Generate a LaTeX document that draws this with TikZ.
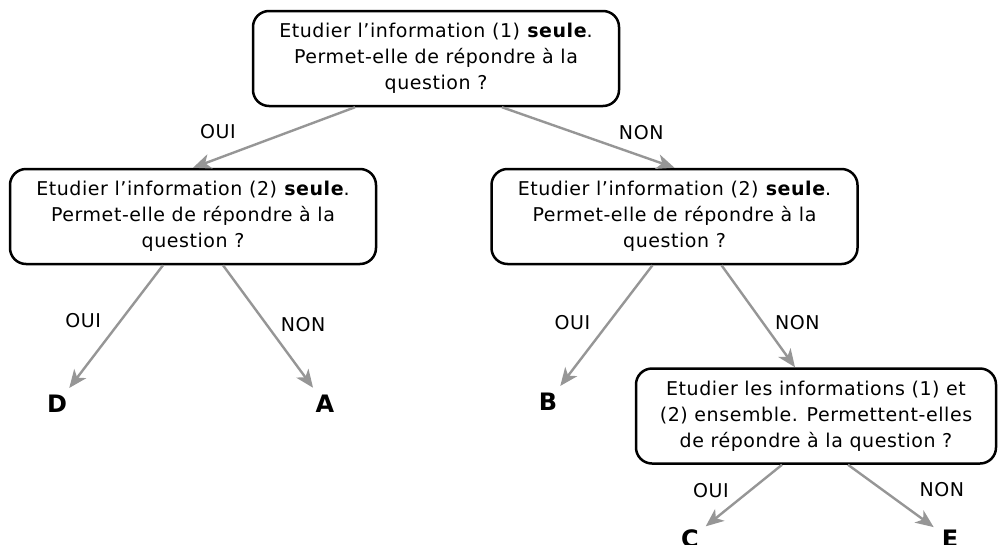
\documentclass[tikz,border=0pt]{standalone}
\usepackage{fontspec}
\setmainfont[LetterSpace=3]{DejaVu Sans}
\usetikzlibrary{calc, arrows.meta}
\definecolor{arrowgray}{RGB}{150,150,150}

\begin{document}
\begin{tikzpicture}[
    x=1pt, y=-1pt,
    question/.style={rectangle, rounded corners=16pt, draw, line width=2.5pt, minimum width=366pt, minimum height=95pt, align=center, font=\fontsize{19}{26}\selectfont},
    answer/.style={circle, minimum size=40pt, inner sep=0pt, font=\fontsize{24}{28}\selectfont\bfseries},
    choice/.style={-{Stealth[length=18pt, width=15pt, inset=5pt]}, line width=2.4pt, draw=arrowgray},
    tag/.style={font=\fontsize{19}{22}\selectfont}
]
    \useasboundingbox (0,0) rectangle (998,544);

    % Questions
    \node[question] (top) at (436,58.5) {Etudier l’information (1) \textbf{seule}.\\ Permet-elle de répondre à la\\ question ?};
    \node[question] (left) at (193,216.5) {Etudier l’information (2) \textbf{seule}.\\ Permet-elle de répondre à la\\ question ?};
    \node[question] (right) at (674.5,216.5) {Etudier l’information (2) \textbf{seule}.\\ Permet-elle de répondre à la\\ question ?};
    \node[question, minimum width=360pt] (both) at (816,416) {Etudier les informations (1) et\\ (2) ensemble. Permettent-elles\\ de répondre à la question ?};

    % Answers
    \node[answer] (D) at (57,404) {D};
    \node[answer] (A) at (325,404) {A};
    \node[answer] (B) at (548,402) {B};
    \node[answer] (C) at (690,539) {C};
    \node[answer] (E) at (950,539) {E};

    % Choices
    \draw[choice] ($(top.south)+(-81,0)$) -- node[tag, xshift=-56pt, yshift=6pt] {OUI} (left.north);
    \draw[choice] ($(top.south)+(66,0)$) -- node[tag, xshift=53pt, yshift=5pt] {NON} (right.north);
    \draw[choice] ($(left.south)+(-30,0)$) -- node[tag, xshift=-33pt, yshift=6pt] {OUI} (D);
    \draw[choice] ($(left.south)+(30,0)$) -- node[tag, xshift=35pt, yshift=2pt] {NON} (A);
    \draw[choice] ($(right.south)+(-22,0)$) -- node[tag, xshift=-34pt, yshift=3pt] {OUI} (B);
    \draw[choice] ($(right.south)+(47,0)$) -- node[tag, xshift=39pt, yshift=-6pt] {NON} ($(both.north)+(-21,0)$);
    \draw[choice] ($(both.south)+(-34,0)$) -- node[tag, xshift=-33pt, yshift=5pt] {OUI} (C);
    \draw[choice] ($(both.south)+(32,0)$) -- node[tag, xshift=51pt, yshift=6pt] {NON} (E);
\end{tikzpicture}
\end{document}
